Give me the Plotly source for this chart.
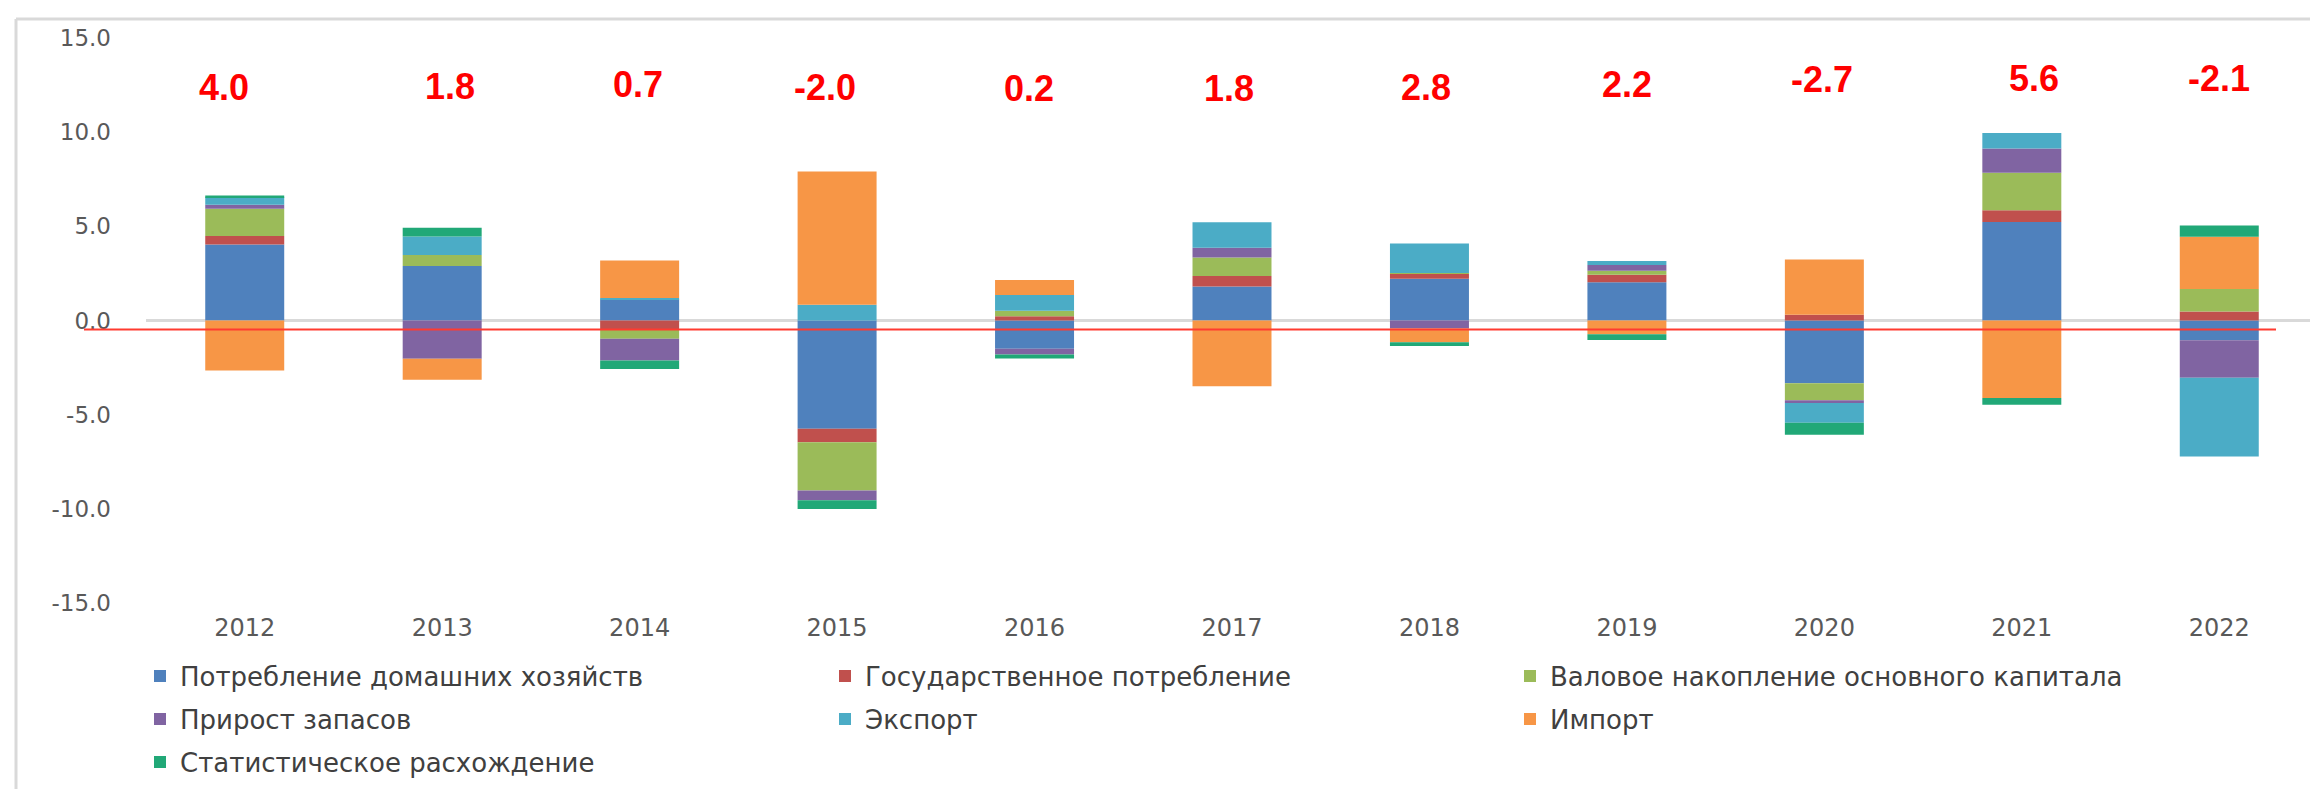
import plotly.graph_objects as go

# ---------------- data ----------------
years = ["2012", "2013", "2014", "2015", "2016", "2017", "2018", "2019", "2020", "2021", "2022"]

household = [4.03, 2.89, 1.11, -5.75, -1.50, 1.80, 2.22, 2.03, -3.33, 5.23, -1.05]
government = [0.46, 0.00, -0.45, -0.71, 0.23, 0.56, 0.25, 0.40, 0.31, 0.63, 0.48]
gfcf = [1.45, 0.59, -0.52, -2.57, 0.29, 0.98, 0.05, 0.21, -0.90, 1.99, 1.19]
inventories = [0.21, -2.03, -1.15, -0.52, -0.31, 0.52, -0.42, 0.31, -0.15, 1.28, -1.99]
exports = [0.39, 0.98, 0.08, 0.84, 0.84, 1.36, 1.57, 0.21, -1.05, 0.82, -4.18]
imports = [-2.66, -1.11, 2.00, 7.07, 0.79, -3.49, -0.73, -0.73, 2.93, -4.12, 2.78]
stat_disc = [0.10, 0.46, -0.46, -0.46, -0.21, 0.00, -0.21, -0.31, -0.63, -0.36, 0.59]

gdp_growth = [4.0, 1.8, 0.7, -2.0, 0.2, 1.8, 2.8, 2.2, -2.7, 5.6, -2.1]

series_names = [
    "Потребление домашних хозяйств",
    "Государственное потребление",
    "Валовое накопление основного капитала",
    "Прирост запасов",
    "Экспорт",
    "Импорт",
    "Статистическое расхождение",
]
series_values = [household, government, gfcf, inventories, exports, imports, stat_disc]

y_ticks = [-15, -10, -5, 0, 5, 10, 15]

# ---------------- styling ----------------
colors = ["#4F81BD", "#C0504D", "#9BBB59", "#8064A2", "#4BACC6", "#F79646", "#21A877"]
legend_ids = ["legend", "legend", "legend", "legend2", "legend2", "legend2", "legend3"]

W, H = 2318, 789
ML, MR, MT, MB = 138, 8, 30, 194
PW = W - ML - MR
PH = H - MT - MB


def px_x(p):
    return (p - ML) / PW


def px_y(p):
    return (H - MB - p) / PH


fig = go.Figure()
for name, vals, col, lg in zip(series_names, series_values, colors, legend_ids):
    fig.add_trace(go.Bar(
        x=years, y=vals, name=name, legend=lg,
        marker=dict(color=col, line=dict(width=0)),
    ))

# growth labels: vertical position (pixels from chart top) and horizontal nudge per year
label_px = [79, 78, 76, 79, 80, 80, 79, 76, 71, 70, 70]
label_shift = [-21, 8, -2, -12, -6, -3, -3, 0, -2, 12, 0]
unit_px = PH / 30.0
zero_px = MT + 15 * unit_px
for i, (g, lp, sh) in enumerate(zip(gdp_growth, label_px, label_shift)):
    fig.add_annotation(
        x=i, y=(zero_px - lp) / unit_px, xref="x", yref="y",
        text=f"{g:.1f}", showarrow=False, xshift=sh,
        font=dict(family="Liberation Sans, Arial", size=36, color="#FF0000", weight="bold"),
    )

# red reference line slightly below zero
fig.add_shape(type="line", xref="paper", yref="y",
              x0=px_x(76), x1=px_x(2268), y0=-0.48, y1=-0.48,
              line=dict(color="#FF3B30", width=2))

# chart border (top and left visible)
fig.add_shape(type="line", xref="paper", yref="paper",
              x0=px_x(8), x1=px_x(2318), y0=px_y(11), y1=px_y(11),
              line=dict(color="#D9D9D9", width=3))
fig.add_shape(type="line", xref="paper", yref="paper",
              x0=px_x(8), x1=px_x(8), y0=px_y(11), y1=px_y(789),
              line=dict(color="#D9D9D9", width=3))

legend_common = dict(
    orientation="h", entrywidth=640, entrywidthmode="pixels",
    xanchor="left", yanchor="middle",
    font=dict(family="DejaVu Sans", size=26, color="#404040"),
    bgcolor="rgba(0,0,0,0)",
)

fig.update_layout(
    width=W, height=H,
    margin=dict(l=ML, r=MR, t=MT, b=MB),
    barmode="relative", bargap=0.6,
    plot_bgcolor="white", paper_bgcolor="white",
    font=dict(family="DejaVu Sans", color="#595959"),
    xaxis=dict(type="category", showgrid=False, showline=False, ticks="",
               tickfont=dict(size=24, color="#595959"), ticklabelstandoff=8,
               range=[-0.5, 10.5]),
    yaxis=dict(range=[-15, 15], tickvals=y_ticks,
               ticktext=[f"{v:.1f}" for v in y_ticks],
               showgrid=False, zeroline=True, zerolinecolor="#D9D9D9", zerolinewidth=3,
               showline=False, ticks="", tickfont=dict(size=23, color="#595959"),
               ticklabelstandoff=34),
    legend=dict(**legend_common, x=px_x(132), y=px_y(668)),
    legend2=dict(**legend_common, x=px_x(132), y=px_y(711)),
    legend3=dict(**legend_common, x=px_x(132), y=px_y(754)),
)

fig.write_html("out.html")
